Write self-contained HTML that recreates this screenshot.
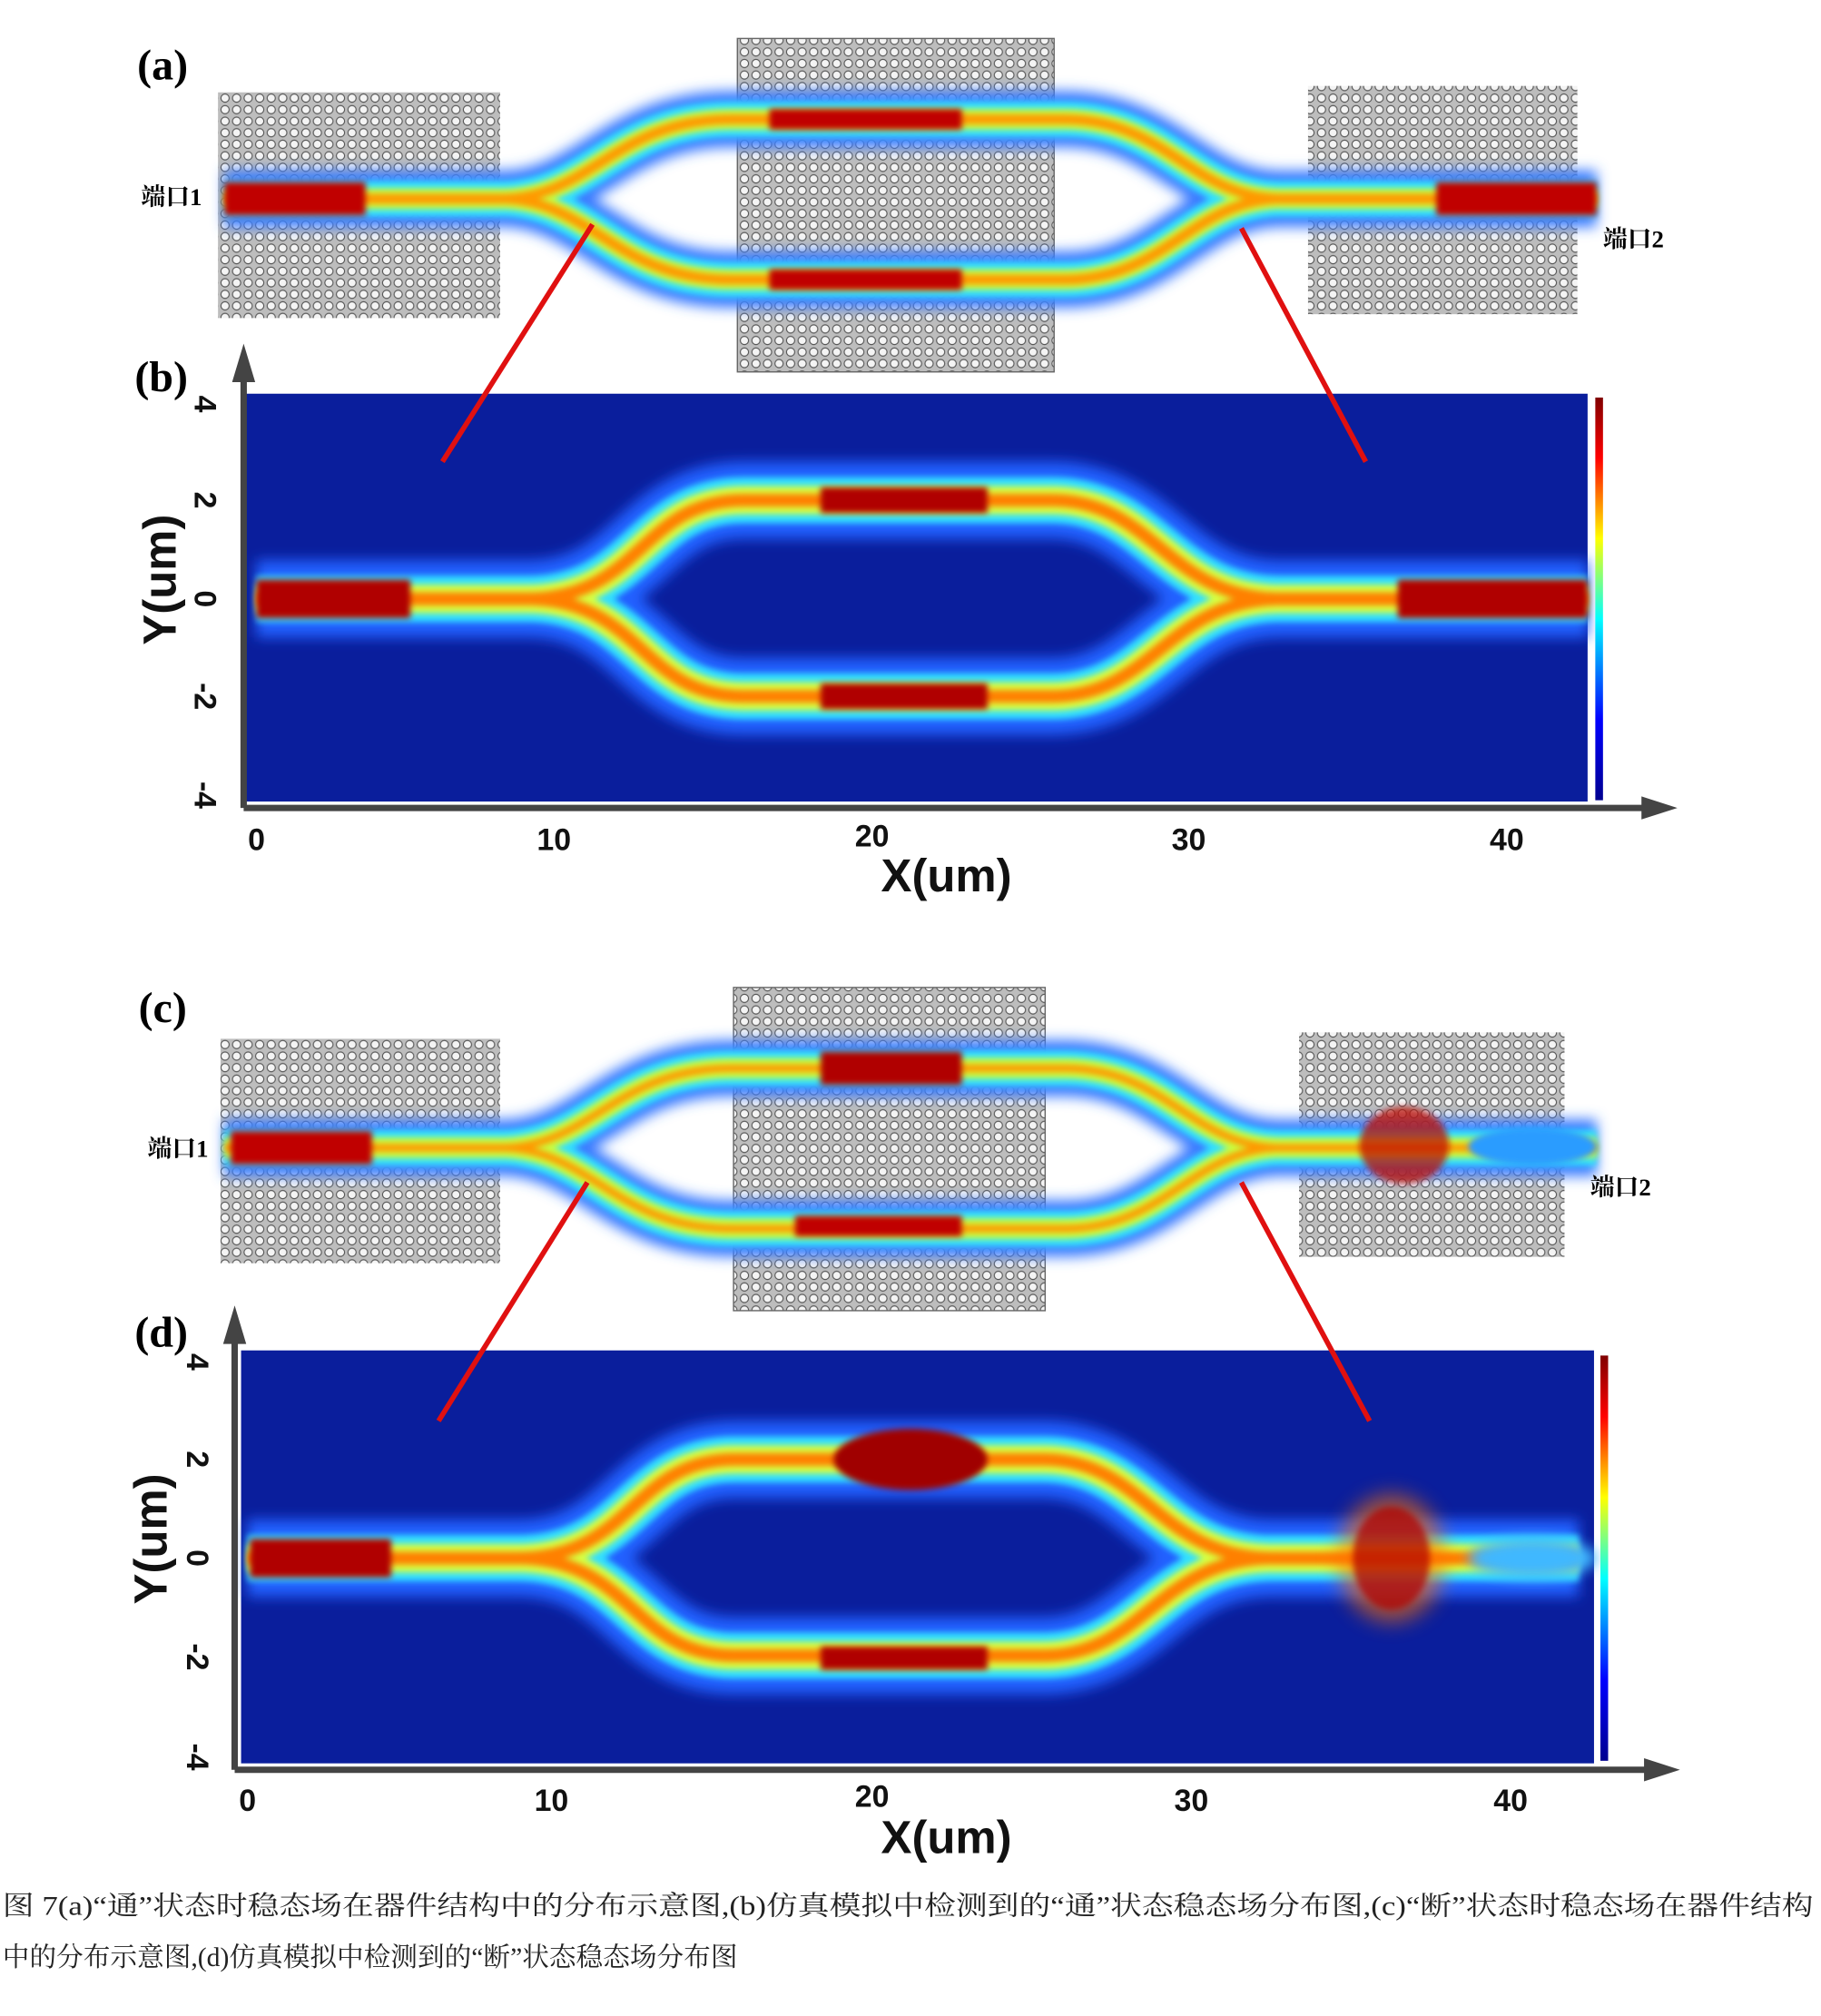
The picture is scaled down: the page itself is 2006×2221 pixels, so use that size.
<!DOCTYPE html>
<html><head><meta charset="utf-8"><style>
html,body{margin:0;padding:0;background:#fff;}
svg{display:block;}
</style></head><body>
<svg width="2006" height="2221" viewBox="0 0 1420 1572" preserveAspectRatio="none" xmlns="http://www.w3.org/2000/svg">
<defs>
<pattern id="holes" width="9" height="9" patternUnits="userSpaceOnUse">
<rect width="9" height="9" fill="#bdbdbd"/>
<circle cx="4.5" cy="4.5" r="3.2" fill="#f4f4f4" stroke="#555" stroke-width="0.8"/>
</pattern>
<filter id="bl" x="-10%" y="-50%" width="120%" height="200%"><feGaussianBlur stdDeviation="5"/></filter>
<filter id="bl2" x="-10%" y="-50%" width="120%" height="200%"><feGaussianBlur stdDeviation="2.5"/></filter>
<filter id="bl3" x="-30%" y="-30%" width="160%" height="160%"><feGaussianBlur stdDeviation="8"/></filter>
<linearGradient id="cb" x1="0" y1="0" x2="0" y2="1">
<stop offset="0" stop-color="#800000"/><stop offset="0.15" stop-color="#ff0000"/><stop offset="0.35" stop-color="#ffff00"/><stop offset="0.55" stop-color="#00ffff"/><stop offset="0.8" stop-color="#0000ff"/><stop offset="1" stop-color="#00008f"/>
</linearGradient>
<g id="armsA">
<path d="M175,155 L390,155 C460,155 480,93 570,93 L830,93 C910,93 930,155 1000,155 L1245,155"/>
<path d="M175,155 L390,155 C460,155 480,218 570,218 L830,218 C910,218 930,155 1000,155 L1245,155"/>
</g>
<g id="armsB">
<path d="M200,467 L410,467 C500,467 500,390 580,390 L820,390 C900,390 910,467 1000,467 L1238,467"/>
<path d="M200,467 L410,467 C500,467 500,543 580,543 L820,543 C900,543 910,467 1000,467 L1238,467"/>
</g>
</defs>

<text x="107" y="62" font-family="Liberation Serif,serif" font-weight="bold" font-size="34">(a)</text>
<rect x="170" y="72" width="220" height="176" fill="url(#holes)"/>
<rect x="575" y="30" width="247" height="260" fill="url(#holes)" stroke="#666"/>
<rect x="1020" y="67" width="210" height="178" fill="url(#holes)"/>
<g fill="none">
<use href="#armsA" stroke="#3a7cff" stroke-width="44" filter="url(#bl)"/>
<use href="#armsA" stroke="#30e0ff" stroke-width="28" filter="url(#bl2)"/>
<use href="#armsA" stroke="#c8ff40" stroke-width="16" filter="url(#bl2)"/>
<use href="#armsA" stroke="#ff9a00" stroke-width="8" filter="url(#bl2)"/>
</g>
<rect x="175" y="142" width="110" height="26" fill="#c00000" filter="url(#bl2)"/>
<rect x="1120" y="142" width="125" height="26" fill="#c00000" filter="url(#bl2)"/>
<rect x="600" y="85" width="150" height="16" fill="#c00000" filter="url(#bl2)"/>
<rect x="600" y="210" width="150" height="16" fill="#c00000" filter="url(#bl2)"/>
<text x="110" y="160" font-family="Liberation Serif,'Noto Serif CJK SC',serif" font-weight="bold" font-size="19">端口1</text>
<text x="1250" y="193" font-family="Liberation Serif,'Noto Serif CJK SC',serif" font-weight="bold" font-size="19">端口2</text>

<rect x="190" y="307" width="1048" height="318" fill="#0a1e9c"/>
<g fill="none">
<use href="#armsB" stroke="#2060ff" stroke-width="60" filter="url(#bl)"/>
<use href="#armsB" stroke="#30e0ff" stroke-width="36" filter="url(#bl2)"/>
<use href="#armsB" stroke="#d8ff40" stroke-width="22" filter="url(#bl2)"/>
<use href="#armsB" stroke="#ff8000" stroke-width="10" filter="url(#bl2)"/>
</g>
<rect x="200" y="452" width="120" height="30" fill="#b00000" filter="url(#bl2)"/>
<rect x="1090" y="452" width="148" height="30" fill="#b00000" filter="url(#bl2)"/>
<rect x="640" y="380" width="130" height="20" fill="#b00000" filter="url(#bl2)"/>
<rect x="640" y="533" width="130" height="20" fill="#b00000" filter="url(#bl2)"/>
<rect x="1244" y="310" width="6" height="314" fill="url(#cb)"/>
<line x1="462" y1="175" x2="345" y2="360" stroke="#e01010" stroke-width="4"/>
<line x1="968" y1="178" x2="1065" y2="360" stroke="#e01010" stroke-width="4"/>
<text x="105" y="305" font-family="Liberation Serif,serif" font-weight="bold" font-size="34">(b)</text>
<g stroke="#444" stroke-width="5">
<line x1="190" y1="290" x2="190" y2="630"/><line x1="190" y1="630" x2="1285" y2="630"/>
</g>
<polygon points="190,268 181,298 199,298" fill="#444"/>
<polygon points="1308,630 1280,621 1280,639" fill="#444"/>
<g font-family="Liberation Sans,sans-serif" font-weight="bold" font-size="24" fill="#111">
<text x="200" y="663" text-anchor="middle">0</text><text x="432" y="663" text-anchor="middle">10</text><text x="680" y="660" text-anchor="middle">20</text><text x="927" y="663" text-anchor="middle">30</text><text x="1175" y="663" text-anchor="middle">40</text>
<text x="738" y="695" text-anchor="middle" font-size="36">X(um)</text>
<g transform="rotate(90)"><text x="315" y="-152" text-anchor="middle">4</text><text x="390" y="-152" text-anchor="middle">2</text><text x="467" y="-152" text-anchor="middle">0</text><text x="543" y="-152" text-anchor="middle">-2</text><text x="620" y="-152" text-anchor="middle">-4</text></g>
<text transform="translate(137,452) rotate(-90)" text-anchor="middle" font-size="36">Y(um)</text>
</g>

<text x="108" y="797" font-family="Liberation Serif,serif" font-weight="bold" font-size="34">(c)</text>
<rect x="172" y="810" width="218" height="175" fill="url(#holes)"/>
<rect x="572" y="770" width="243" height="252" fill="url(#holes)" stroke="#666"/>
<rect x="1013" y="805" width="207" height="175" fill="url(#holes)"/>
<g transform="translate(0,740)" fill="none">
<use href="#armsA" stroke="#3a7cff" stroke-width="44" filter="url(#bl)"/>
<use href="#armsA" stroke="#30e0ff" stroke-width="28" filter="url(#bl2)"/>
<use href="#armsA" stroke="#c8ff40" stroke-width="16" filter="url(#bl2)"/>
<use href="#armsA" stroke="#ff9a00" stroke-width="6" filter="url(#bl2)"/>
</g>
<ellipse cx="1195" cy="894" rx="50" ry="15" fill="#2a9cff" filter="url(#bl2)"/>
<rect x="180" y="882" width="110" height="26" fill="#c00000" filter="url(#bl2)"/>
<ellipse cx="1095" cy="893" rx="35" ry="30" fill="#c01000" opacity="0.75" filter="url(#bl2)"/>
<rect x="640" y="820" width="110" height="26" fill="#b00000" filter="url(#bl2)"/>
<rect x="620" y="948" width="130" height="16" fill="#c00000" filter="url(#bl2)"/>
<text x="115" y="902" font-family="Liberation Serif,'Noto Serif CJK SC',serif" font-weight="bold" font-size="19">端口1</text>
<text x="1240" y="932" font-family="Liberation Serif,'Noto Serif CJK SC',serif" font-weight="bold" font-size="19">端口2</text>

<rect x="188" y="1053" width="1055" height="322" fill="#0a1e9c"/>
<g transform="translate(-7,748)" fill="none">
<use href="#armsB" stroke="#2060ff" stroke-width="60" filter="url(#bl)"/>
<use href="#armsB" stroke="#30e0ff" stroke-width="36" filter="url(#bl2)"/>
<use href="#armsB" stroke="#d8ff40" stroke-width="22" filter="url(#bl2)"/>
<use href="#armsB" stroke="#ff8000" stroke-width="10" filter="url(#bl2)"/>
</g>
<ellipse cx="1195" cy="1215" rx="50" ry="16" fill="#40b8ff" filter="url(#bl)"/>
<rect x="195" y="1200" width="110" height="30" fill="#b00000" filter="url(#bl2)"/>
<ellipse cx="1085" cy="1215" rx="42" ry="50" fill="#ff7000" opacity="0.6" filter="url(#bl3)"/>
<ellipse cx="1085" cy="1215" rx="30" ry="40" fill="#b00000" opacity="0.7" filter="url(#bl2)"/>
<ellipse cx="710" cy="1138" rx="60" ry="24" fill="#a00000" filter="url(#bl2)"/>
<rect x="640" y="1284" width="130" height="18" fill="#b00000" filter="url(#bl2)"/>
<rect x="1248" y="1057" width="6" height="316" fill="url(#cb)"/>
<line x1="458" y1="922" x2="342" y2="1108" stroke="#e01010" stroke-width="4"/>
<line x1="968" y1="922" x2="1068" y2="1108" stroke="#e01010" stroke-width="4"/>
<text x="105" y="1050" font-family="Liberation Serif,serif" font-weight="bold" font-size="34">(d)</text>
<g stroke="#444" stroke-width="5">
<line x1="183" y1="1040" x2="183" y2="1380"/><line x1="183" y1="1380" x2="1285" y2="1380"/>
</g>
<polygon points="183,1018 174,1048 192,1048" fill="#444"/>
<polygon points="1310,1380 1282,1371 1282,1389" fill="#444"/>
<g font-family="Liberation Sans,sans-serif" font-weight="bold" font-size="24" fill="#111">
<text x="193" y="1412" text-anchor="middle">0</text><text x="430" y="1412" text-anchor="middle">10</text><text x="680" y="1409" text-anchor="middle">20</text><text x="929" y="1412" text-anchor="middle">30</text><text x="1178" y="1412" text-anchor="middle">40</text>
<text x="738" y="1445" text-anchor="middle" font-size="36">X(um)</text>
<g transform="rotate(90)"><text x="1062" y="-146" text-anchor="middle">4</text><text x="1138" y="-146" text-anchor="middle">2</text><text x="1215" y="-146" text-anchor="middle">0</text><text x="1292" y="-146" text-anchor="middle">-2</text><text x="1370" y="-146" text-anchor="middle">-4</text></g>
<text transform="translate(130,1200) rotate(-90)" text-anchor="middle" font-size="36">Y(um)</text>
</g>

<g font-family="Liberation Serif,'Noto Serif CJK SC',serif" font-size="21" fill="#222">
<text x="2" y="1493" textLength="1412" lengthAdjust="spacingAndGlyphs">图 7(a)“通”状态时稳态场在器件结构中的分布示意图,(b)仿真模拟中检测到的“通”状态稳态场分布图,(c)“断”状态时稳态场在器件结构</text>
<text x="2" y="1533">中的分布示意图,(d)仿真模拟中检测到的“断”状态稳态场分布图</text>
</g>
</svg>
</body></html>
